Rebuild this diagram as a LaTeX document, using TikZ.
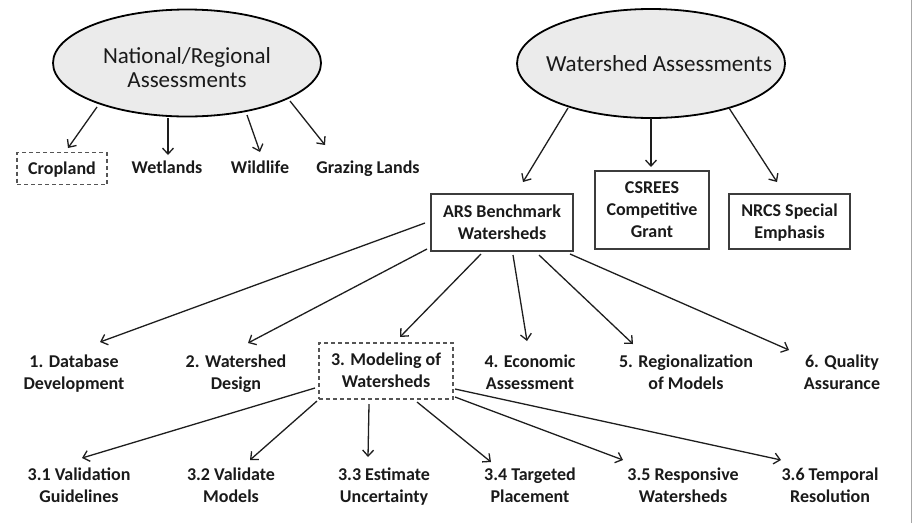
\documentclass[tikz,border=0pt]{standalone}
\usepackage{fontspec}
\setmainfont{Carlito}
\usetikzlibrary{shapes.geometric,arrows.meta}
\definecolor{ellfill}{HTML}{EBEBEB}
\definecolor{txt}{HTML}{1A1A1A}
\definecolor{boxc}{HTML}{3C3C3C}
\definecolor{dashc}{HTML}{555555}
\definecolor{arrc}{HTML}{1E1E1E}
\newcommand{\Lst}{\rule[-5pt]{0pt}{21pt}}
\newcommand{\Est}{\rule[-6pt]{0pt}{23pt}}
\begin{document}
\begin{tikzpicture}[x=1pt,y=-1pt,
  ell/.style={ellipse,draw=black,line width=1.8pt,fill=ellfill,inner sep=0pt},
  elltext/.style={inner sep=0pt,font=\fontsize{23}{24}\selectfont,align=center,text=txt},
  lbl/.style={inner sep=0pt,align=center,font=\fontsize{18}{22}\selectfont\bfseries,text=txt},
  boxn/.style={lbl,draw=boxc,line width=1.3pt},
  dbox/.style={lbl,draw=dashc,line width=1.2pt,dash pattern=on 4pt off 3pt},
  arr/.style={draw=arrc,line width=1.3pt,-{Straight Barb[length=6pt,width=11pt]}}
]
\useasboundingbox (0,0) rectangle (912,523);
\fill[white] (0,0) rectangle (912,523);
\draw[gray!70,line width=1.2pt] (911.4,0) -- (911.4,523);

% top ellipses
\node[ell,minimum width=268pt,minimum height=107pt] (nat) at (187,63) {};
\node[elltext] (natt) at (187,69.5) {\Est National/Regional\\\Est Assessments};
\node[ell,minimum width=268pt,minimum height=109pt] (ws) at (651,63.5) {};
\node[elltext] (wst) at (659,66) {\Est Watershed Assessments};

% national children
\node[dbox,minimum width=90pt,minimum height=32pt] (crop) at (62,168.5) {\Lst Cropland};
\node[lbl] (wet) at (167,167.5) {\Lst Wetlands};
\node[lbl] (wild) at (260,167.5) {\Lst Wildlife};
\node[lbl] (graz) at (368,167.5) {\Lst Grazing Lands};

% watershed children
\node[boxn,minimum width=142pt,minimum height=57pt] (ars) at (502,222.5) {\Lst ARS Benchmark\\\Lst Watersheds};
\node[boxn,minimum width=114pt,minimum height=78pt] (csr) at (652,210) {\Lst CSREES\\\Lst Competitive\\\Lst Grant};
\node[boxn,minimum width=121pt,minimum height=55pt] (nrcs) at (789.5,221.5) {\Lst NRCS Special\\\Lst Emphasis};

% second level
\node[lbl] (d1) at (74,372.5) {\Lst 1. Database\\\Lst Development};
\node[lbl] (d2) at (236,372.5) {\Lst 2. Watershed\\\Lst Design};
\node[dbox,minimum width=134pt,minimum height=56pt] (d3) at (386,371) {\Lst 3. Modeling of\\\Lst Watersheds};
\node[lbl] (d4) at (530,372.5) {\Lst 4. Economic\\\Lst Assessment};
\node[lbl] (d5) at (686,372.5) {\Lst 5. Regionalization\\\Lst of Models};
\node[lbl] (d6) at (842,372.5) {\Lst 6. Quality\\\Lst Assurance};

% third level
\node[lbl] (s1) at (79,486) {\Lst 3.1 Validation\\\Lst Guidelines};
\node[lbl] (s2) at (231,486) {\Lst 3.2 Validate\\\Lst Models};
\node[lbl] (s3) at (384,486) {\Lst 3.3 Estimate\\\Lst Uncertainty};
\node[lbl] (s4) at (530,486) {\Lst 3.4 Targeted\\\Lst Placement};
\node[lbl] (s5) at (683,486) {\Lst 3.5 Responsive\\\Lst Watersheds};
\node[lbl] (s6) at (830,486) {\Lst 3.6 Temporal\\\Lst Resolution};

% connectors from national
\draw[arr] ([shift={(-90,44)}]nat.center) -- ([shift={(6,-20.5)}]crop.center);
\draw[arr] ([shift={(-19,55)}]nat.center) -- ([shift={(1,-12.5)}]wet.center);
\draw[arr] ([shift={(60,52)}]nat.center) -- ([shift={(0,-15.5)}]wild.center);
\draw[arr] ([shift={(103,38)}]nat.center) -- ([shift={(-43,-22.5)}]graz.center);

% connectors from watershed
\draw[arr] ([shift={(-83,44.5)}]ws.center) -- ([shift={(21,-40.5)}]ars.center);
\draw[arr] ([shift={(0,54.5)}]ws.center) -- ([shift={(-1,-43)}]csr.center);
\draw[arr] ([shift={(78,44.5)}]ws.center) -- ([shift={(-12.5,-39.5)}]nrcs.center);

% connectors from ARS
\draw[arr] ([shift={(-77,0.5)}]ars.center) -- ([shift={(26,-30.5)}]d1.center);
\draw[arr] ([shift={(-75,26.5)}]ars.center) -- ([shift={(12,-29.5)}]d2.center);
\draw[arr] ([shift={(-21,31.5)}]ars.center) -- ([shift={(14,-34)}]d3.center);
\draw[arr] ([shift={(11,32.5)}]ars.center) -- ([shift={(-3,-31.5)}]d4.center);
\draw[arr] ([shift={(37,32.5)}]ars.center) -- ([shift={(-53,-28.5)}]d5.center);
\draw[arr] ([shift={(68,31.5)}]ars.center) -- ([shift={(-53,-22.5)}]d6.center);

% connectors from modeling
\draw[arr] ([shift={(-71,17)}]d3.center) -- ([shift={(3,-28)}]s1.center);
\draw[arr] ([shift={(-69,30)}]d3.center) -- ([shift={(19,-26)}]s2.center);
\draw[arr] ([shift={(-17,33)}]d3.center) -- ([shift={(-16,-29)}]s3.center);
\draw[arr] ([shift={(31,31)}]d3.center) -- ([shift={(-39,-24)}]s4.center);
\draw[arr] ([shift={(69,26)}]d3.center) -- ([shift={(-60,-26)}]s5.center);
\draw[arr] ([shift={(69,18)}]d3.center) -- ([shift={(-49,-26)}]s6.center);
\end{tikzpicture}
\end{document}
